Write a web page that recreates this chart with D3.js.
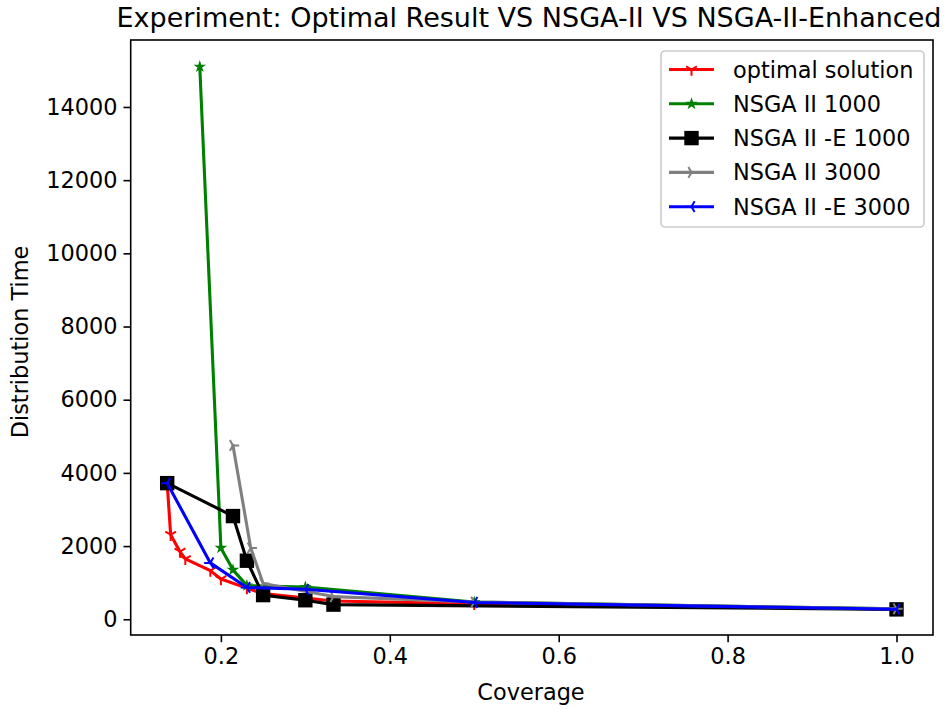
<!DOCTYPE html>
<html><head><meta charset="utf-8">
<script src="https://cdn.jsdelivr.net/npm/d3@7"></script>
<style>
html,body{margin:0;padding:0;background:#fff;}
svg{display:block;font-family:"DejaVu Sans",sans-serif;}
</style></head>
<body>
<svg id="chart" width="947" height="710"></svg>
<script>
// ---- data ----
const optimalX = [0.1364, 0.1405, 0.1515, 0.1579, 0.1875, 0.2, 0.2308, 0.25, 0.3, 0.3333, 0.5, 1.0];
const optimalY = [3720, 2310, 1850, 1650, 1330, 1100, 850, 700, 580, 500, 420, 280];
const nsga1000X = [0.175, 0.2, 0.2143, 0.2308, 0.3, 0.5, 1.0];
const nsga1000Y = [15100, 1950, 1350, 920, 880, 470, 285];
const nsgaE1000X = [0.1364, 0.2143, 0.2308, 0.25, 0.3, 0.3333, 1.0];
const nsgaE1000Y = [3720, 2820, 1600, 660, 520, 400, 270];
const nsga3000X = [0.2143, 0.2353, 0.25, 0.3333, 0.5, 1.0];
const nsga3000Y = [4750, 1950, 980, 620, 470, 285];
const nsgaE3000X = [0.1364, 0.1875, 0.2308, 0.3, 0.5, 1.0];
const nsgaE3000Y = [3720, 1540, 870, 820, 460, 275];
const seriesNames = ["optimal solution", "NSGA II 1000", "NSGA II -E 1000", "NSGA II 3000", "NSGA II -E 3000"];
const xTicks = [0.2, 0.4, 0.6, 0.8, 1.0];
const yTicks = [0, 2000, 4000, 6000, 8000, 10000, 12000, 14000];
const titleText = "Experiment: Optimal Result VS NSGA-II VS NSGA-II-Enhanced";
const xLabel = "Coverage";
const yLabel = "Distribution Time";

const series = [
  {name: seriesNames[0], xs: optimalX, ys: optimalY, color: "#ff0000", marker: "tri_down"},
  {name: seriesNames[1], xs: nsga1000X, ys: nsga1000Y, color: "#008000", marker: "star"},
  {name: seriesNames[2], xs: nsgaE1000X, ys: nsgaE1000Y, color: "#000000", marker: "square"},
  {name: seriesNames[3], xs: nsga3000X, ys: nsga3000Y, color: "#808080", marker: "tri_right"},
  {name: seriesNames[4], xs: nsgaE3000X, ys: nsgaE3000Y, color: "#0000ff", marker: "tri_left"}
];

// ---- layout ----
const L = 130.7, R = 933, T = 40, B = 635;
const FS = "22.4px";
const x = d3.scaleLinear().domain([0.0932, 1.0432]).range([L, R]);
const y = d3.scaleLinear().domain([-430, 15830]).range([B, T]);

const svg = d3.select("#chart");

function drawMarker(g, type, cx, cy, color) {
  const r = 6.2;
  if (type === "square") {
    g.append("rect").attr("x", cx - r).attr("y", cy - r).attr("width", 2*r).attr("height", 2*r)
      .attr("fill", color).attr("stroke", color).attr("stroke-width", 2);
  } else if (type === "star") {
    const rs = 4.2;
    const pts = [];
    for (let i = 0; i < 10; i++) {
      const rr = (i % 2 === 0) ? rs : rs * 0.381966;
      const a = -Math.PI/2 + i * Math.PI/5;
      pts.push([cx + rr*Math.cos(a), cy + rr*Math.sin(a)]);
    }
    g.append("path").attr("d", "M" + pts.map(p => p.join(",")).join("L") + "Z")
      .attr("fill", color).attr("stroke", color).attr("stroke-width", 1.5).attr("stroke-linejoin", "miter");
  } else {
    let base;
    if (type === "tri_down") base = Math.PI/2;
    else if (type === "tri_up") base = -Math.PI/2;
    else if (type === "tri_left") base = Math.PI;
    else base = 0;
    let d = "";
    for (let k = 0; k < 3; k++) {
      const a = base + k * 2*Math.PI/3;
      d += `M${cx},${cy}L${cx + r*Math.cos(a)},${cy + r*Math.sin(a)}`;
    }
    g.append("path").attr("d", d).attr("fill", "none").attr("stroke", color).attr("stroke-width", 2);
  }
}

svg.append("defs").append("clipPath").attr("id", "clip")
  .append("rect").attr("x", L).attr("y", T).attr("width", R - L).attr("height", B - T);

const plot = svg.append("g").attr("clip-path", "url(#clip)");
const line = d3.line().x(d => x(d[0])).y(d => y(d[1]));
series.forEach(s => {
  const pts = s.xs.map((v, i) => [v, s.ys[i]]);
  const g = plot.append("g");
  g.append("path").attr("d", line(pts)).attr("fill", "none").attr("stroke", s.color)
    .attr("stroke-width", 3.1).attr("stroke-linejoin", "round").attr("stroke-linecap", "square");
  pts.forEach(p => drawMarker(g, s.marker, x(p[0]), y(p[1]), s.color));
});

const xAxis = svg.append("g").attr("transform", `translate(0,${B})`)
  .call(d3.axisBottom(x).tickValues(xTicks).tickFormat(d3.format(".1f")).tickSize(7.2).tickPadding(6));
const yAxis = svg.append("g").attr("transform", `translate(${L},0)`)
  .call(d3.axisLeft(y).tickValues(yTicks).tickFormat(d3.format("d")).tickSize(7.2).tickPadding(6));
[xAxis, yAxis].forEach(a => {
  a.select(".domain").remove();
  a.selectAll(".tick line").attr("stroke", "#000").attr("stroke-width", 1.6);
  a.selectAll(".tick text").attr("fill", "#000").style("font-size", FS).style("font-family", "DejaVu Sans");
});
svg.append("rect").attr("x", L).attr("y", T).attr("width", R - L).attr("height", B - T)
  .attr("fill", "none").attr("stroke", "#000").attr("stroke-width", 1.6);

svg.append("text").attr("x", 531).attr("y", 700).attr("text-anchor", "middle")
  .style("font-size", FS).attr("fill", "#000").text(xLabel);
svg.append("text").attr("transform", "translate(28,342) rotate(-90)").attr("text-anchor", "middle")
  .style("font-size", FS).attr("fill", "#000").text(yLabel);
svg.append("text").attr("x", 529).attr("y", 27).attr("text-anchor", "middle")
  .style("font-size", "27px").attr("fill", "#000").text(titleText);

const lg = svg.append("g");
lg.append("rect").attr("x", 661).attr("y", 51).attr("width", 263).attr("height", 176)
  .attr("rx", 4).attr("fill", "#fff").attr("fill-opacity", 0.8).attr("stroke", "#cccccc").attr("stroke-width", 1.6);
series.forEach((s, i) => {
  const cy = 69.5 + i * 34.3;
  lg.append("line").attr("x1", 669).attr("x2", 714).attr("y1", cy).attr("y2", cy)
    .attr("stroke", s.color).attr("stroke-width", 3.1);
  drawMarker(lg, s.marker, 691.5, cy, s.color);
  lg.append("text").attr("x", 733).attr("y", cy + 8).style("font-size", FS).attr("fill", "#000").text(s.name);
});
</script>
</body></html>
